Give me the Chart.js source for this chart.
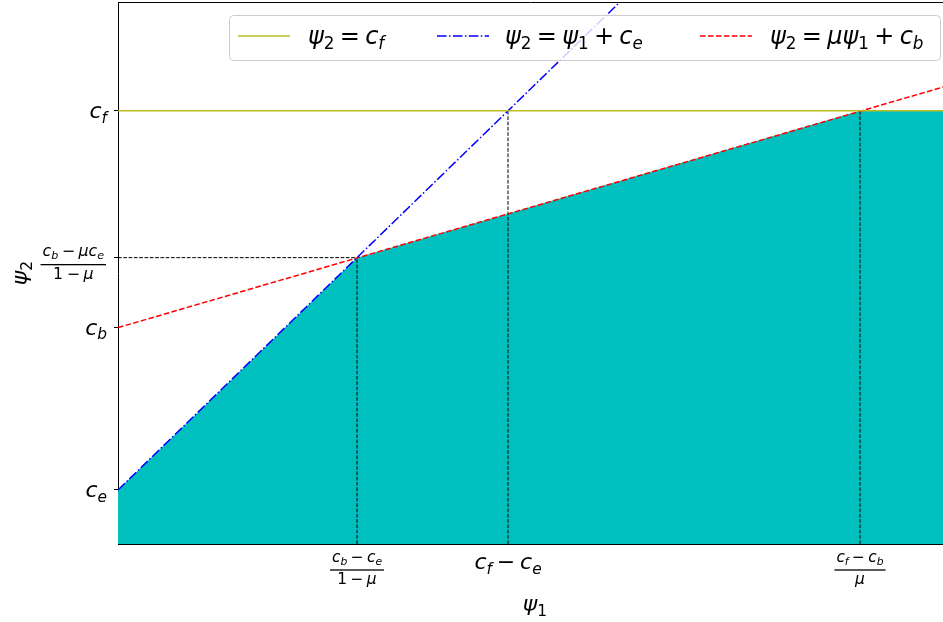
<!DOCTYPE html>
<html>
<head>
<meta charset="utf-8">
<script src="https://cdn.jsdelivr.net/npm/chart.js@4/dist/chart.umd.min.js"></script>
<style>
  html, body { margin: 0; padding: 0; background: #fff; overflow: hidden; }
</style>
</head>
<body>
<canvas id="myChart" width="943" height="622"></canvas>
<script>

// values (1 unit on psi1 = 100 px)
const xRange = [0, 8.25];
const yRange = [0.444, 6.02];

const xTickVals = [2.39, 3.90, 7.42];
const xTickLabels = ['frac:c_b − c_e|1 − μ', 'c_f − c_e', 'frac:c_f − c_b|μ'];

const yTickVals = [1.0, 2.67, 3.39, 4.9];
const yTickLabels = ['c_e', 'c_b', 'frac:c_b − μc_e|1 − μ', 'c_f'];

// psi2 = c_f
const cfX = [0, 8.25];
const cfY = [4.9, 4.9];
// psi2 = psi1 + c_e
const ceX = [0, 5.1];
const ceY = [1.0, 6.1];
// psi2 = mu psi1 + c_b
const cbX = [0, 8.25];
const cbY = [2.67, 5.145];
// feasible region boundary
const regionX = [0, 2.39, 7.42, 8.25];
const regionY = [1.0, 3.39, 4.9, 4.9];
// dashed guides
const guideX = [2.39, 3.90, 7.42];
const guideTop = [3.39, 4.9, 4.9];
const hGuideY = 3.39;
const hGuideEnd = 2.39;

const legendLabels = ['ψ_2 = c_f', 'ψ_2 = ψ_1 + c_e', 'ψ_2 = μψ_1 + c_b'];


function pts(xs, ys) {
    return xs.map((x, i) => ({x: x, y: ys[i]}));
}

let datasets = [
    {label: 'cf', data: pts(cfX, cfY), borderColor: '#bcbd22', borderWidth: 1.5, order: 0},
    {label: 'ce', data: pts(ceX, ceY), borderColor: '#0000ff', borderWidth: 1.5,
        borderDash: [9.6, 2.4, 1.5, 2.4], order: 0},
    {label: 'cb', data: pts(cbX, cbY), borderColor: '#ff0000', borderWidth: 1.5,
        borderDash: [5.55, 2.4], order: 0},
    {label: 'region', data: pts(regionX, regionY), borderWidth: 0, borderColor: 'rgba(0,0,0,0)',
        backgroundColor: '#00bfbf', fill: 'start', order: 10}
];
for (let i = 0; i < guideX.length; i++) {
    datasets.push({label: 'guide' + i, data: pts([guideX[i], guideX[i]], [yRange[0], guideTop[i]]),
        borderColor: '#000', borderWidth: 1, borderDash: [3.7, 1.6], order: 1});
}
datasets.push({label: 'hguide', data: pts([xRange[0], hGuideEnd], [hGuideY, hGuideY]),
    borderColor: '#000', borderWidth: 1, borderDash: [3.7, 1.6], order: 1});


// --- tiny mathtext-ish text drawing ---
const FONT = '"DejaVu Sans"';

function toks(str) {
    let out = [];
    for (let i = 0; i < str.length; i++) {
        let ch = str[i], sub = false;
        if (ch === '_') { sub = true; ch = str[++i]; }
        if (ch === ' ') { out.push({gap: true}); continue; }
        out.push({t: ch, it: /[a-zA-Zψμ]/.test(ch), sub: sub});
    }
    return out;
}

function fontFor(tk, size) {
    let s = tk.sub ? size * 0.7 : size;
    return (tk.it ? 'italic ' : '') + s.toFixed(1) + 'px ' + FONT;
}

function mathWidth(ctx, str, size) {
    let w = 0;
    toks(str).forEach(tk => {
        if (tk.gap) { w += 0.22 * size; return; }
        ctx.font = fontFor(tk, size);
        w += ctx.measureText(tk.t).width;
    });
    return w;
}

function drawMath(ctx, str, x, y, size, align) {
    let w = mathWidth(ctx, str, size);
    let cx = align === 'center' ? x - w / 2 : (align === 'right' ? x - w : x);
    ctx.textAlign = 'left';
    ctx.textBaseline = 'alphabetic';
    toks(str).forEach(tk => {
        if (tk.gap) { cx += 0.22 * size; return; }
        ctx.font = fontFor(tk, size);
        ctx.fillText(tk.t, cx, y + (tk.sub ? 0.22 * size : 0));
        cx += ctx.measureText(tk.t).width;
    });
}

function drawFrac(ctx, spec, x, barY, size, align) {
    let parts = spec.slice(5).split('|');
    let w = Math.max(mathWidth(ctx, parts[0], size), mathWidth(ctx, parts[1], size)) + 0.25 * size;
    let left = align === 'right' ? x - w : x - w / 2;
    ctx.fillRect(left, barY - 0.65, w, 1.3);
    drawMath(ctx, parts[0], left + w / 2, barY - 0.55 * size, size, 'center');
    drawMath(ctx, parts[1], left + w / 2, barY + 0.9 * size, size, 'center');
}

function roundBox(ctx, x, y, w, h, r) {
    ctx.beginPath();
    ctx.moveTo(x + r, y);
    ctx.lineTo(x + w - r, y);
    ctx.arcTo(x + w, y, x + w, y + r, r);
    ctx.lineTo(x + w, y + h - r);
    ctx.arcTo(x + w, y + h, x + w - r, y + h, r);
    ctx.lineTo(x + r, y + h);
    ctx.arcTo(x, y + h, x, y + h - r, r);
    ctx.lineTo(x, y + r);
    ctx.arcTo(x, y, x + r, y, r);
    ctx.closePath();
}

const mathLabels = {
    id: 'mathLabels',
    afterDraw(chart) {
        const ctx = chart.ctx;
        const area = chart.chartArea;
        const xs = chart.scales.x, ys = chart.scales.y;
        ctx.save();
        ctx.fillStyle = '#000';

        // top spine
        ctx.strokeStyle = '#000';
        ctx.lineWidth = 1;
        ctx.beginPath();
        ctx.moveTo(area.left, area.top + 0.5);
        ctx.lineTo(area.right, area.top + 0.5);
        ctx.stroke();

        const tickSize = 22;
        // y tick labels
        yTickVals.forEach((v, i) => {
            let py = ys.getPixelForValue(v);
            let lab = yTickLabels[i];
            if (lab.startsWith('frac:')) drawFrac(ctx, lab, 106, py + 7, tickSize * 0.72, 'right');
            else drawMath(ctx, lab, 107, py + 7, tickSize, 'right');
        });
        // x tick labels
        xTickVals.forEach((v, i) => {
            let px = xs.getPixelForValue(v);
            let lab = xTickLabels[i];
            if (lab.startsWith('frac:')) drawFrac(ctx, lab, px, 570, tickSize * 0.7, 'center');
            else drawMath(ctx, lab, px, 569, tickSize, 'center');
        });

        // axis titles
        drawMath(ctx, 'ψ_1', 535, 611, 22, 'center');
        ctx.save();
        ctx.translate(27, (area.top + area.bottom) / 2);
        ctx.rotate(-Math.PI / 2);
        drawMath(ctx, 'ψ_2', 0, 0, 22, 'center');
        ctx.restore();

        // legend
        const box = {x: 229, y: 15, w: 711, h: 45};
        roundBox(ctx, box.x + 0.5, box.y + 0.5, box.w, box.h, 4);
        ctx.fillStyle = 'rgba(255,255,255,0.8)';
        ctx.fill();
        ctx.strokeStyle = '#cccccc';
        ctx.stroke();
        const sampleX = [238, 437, 700];
        const textX = [308, 505, 770];
        for (let i = 0; i < 3; i++) {
            let ds = chart.data.datasets[i];
            ctx.strokeStyle = ds.borderColor;
            ctx.lineWidth = ds.borderWidth;
            ctx.setLineDash(ds.borderDash || []);
            ctx.beginPath();
            ctx.moveTo(sampleX[i], 36);
            ctx.lineTo(sampleX[i] + 52, 36);
            ctx.stroke();
            ctx.setLineDash([]);
            ctx.fillStyle = '#000';
            drawMath(ctx, legendLabels[i], textX[i], 44, 24, 'left');
        }
        ctx.restore();
    }
};

let ctx = document.getElementById('myChart').getContext('2d');
let chart = new Chart(ctx, {
    type: 'scatter',
    data: {datasets: datasets.map(d => Object.assign({showLine: true, pointRadius: 0, fill: false}, d))},
    options: {
        responsive: false,
        animation: false,
        devicePixelRatio: 1,
        layout: {padding: {top: 2, right: 0, left: 0, bottom: 0}},
        plugins: {legend: {display: false}, tooltip: {enabled: false}},
        scales: {
            x: {
                type: 'linear',
                min: xRange[0],
                max: xRange[1],
                afterBuildTicks: s => { s.ticks = xTickVals.map(v => ({value: v})); },
                afterFit: s => { s.height = 78; },
                ticks: {display: false, autoSkip: false},
                grid: {display: false},
                border: {display: true, color: '#000', width: 1}
            },
            y: {
                type: 'linear',
                min: yRange[0],
                max: yRange[1],
                afterBuildTicks: s => { s.ticks = yTickVals.map(v => ({value: v})); },
                afterFit: s => { s.width = 118; },
                ticks: {display: false, autoSkip: false, padding: 0},
                grid: {display: true, drawOnChartArea: false, drawTicks: true, tickLength: 4, color: '#000'},
                border: {display: true, color: '#000', width: 1}
            }
        }
    },
    plugins: [mathLabels]
});

</script>
</body>
</html>
